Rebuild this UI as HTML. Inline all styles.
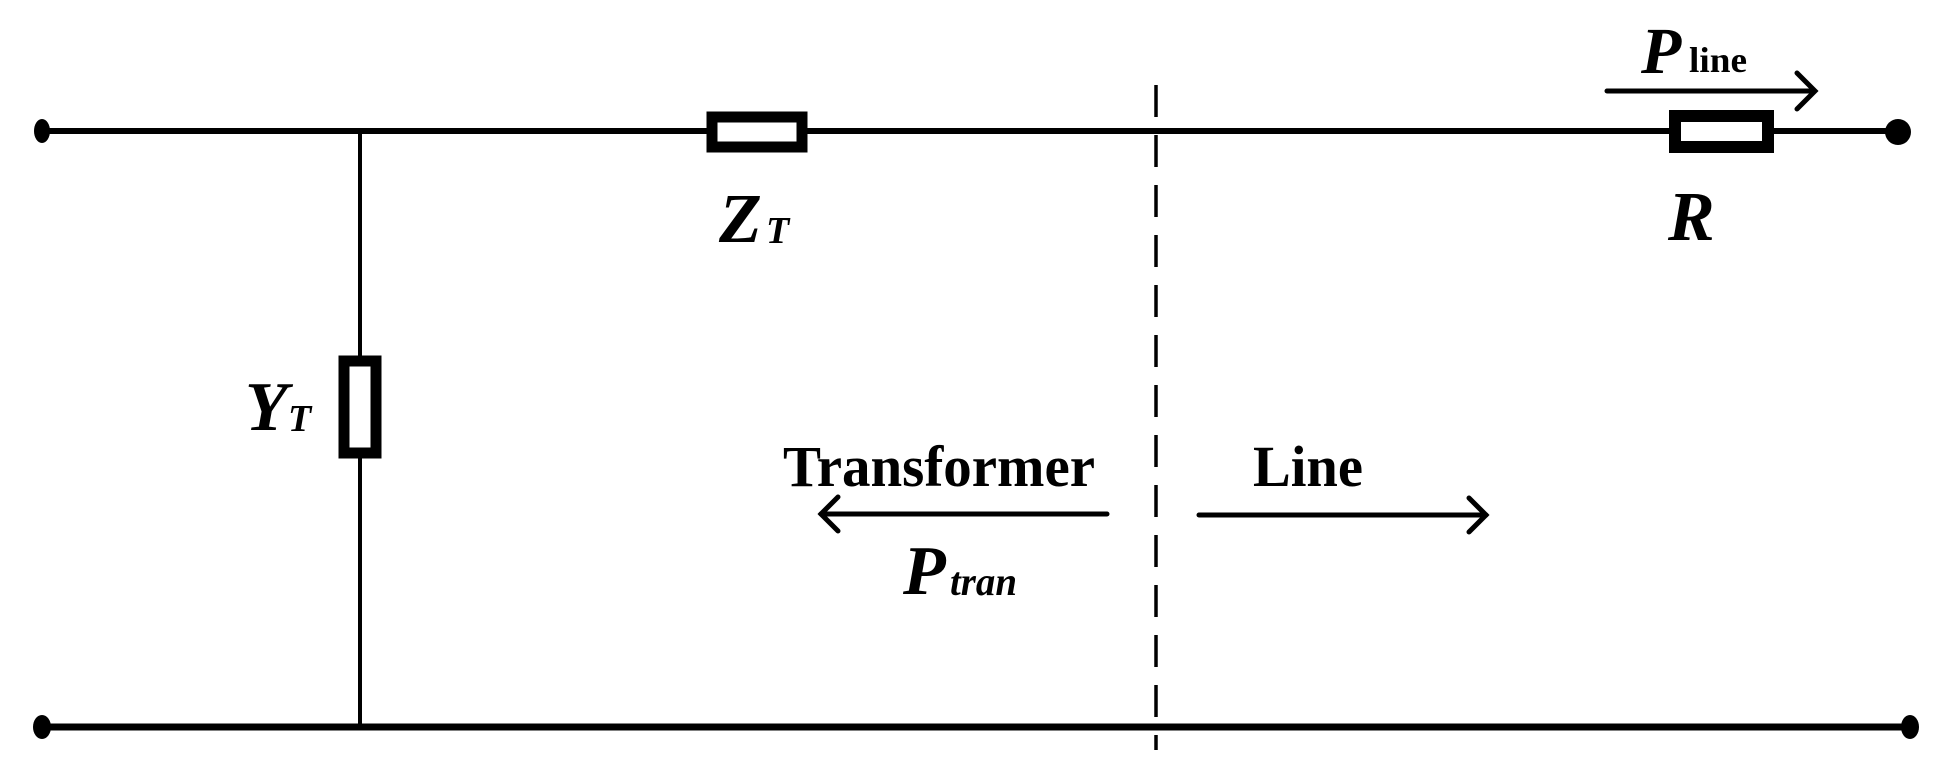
<!DOCTYPE html>
<html><head><meta charset="utf-8"><style>html,body{margin:0;padding:0;background:#fff}svg{display:block}</style></head>
<body>
<svg width="1955" height="772" viewBox="0 0 1955 772" xmlns="http://www.w3.org/2000/svg">
<g stroke="#000" fill="none">
<line x1="42" y1="131" x2="1898" y2="131" stroke-width="6"/>
<line x1="42" y1="727" x2="1910" y2="727" stroke-width="7"/>
<line x1="360" y1="131" x2="360" y2="727" stroke-width="4"/>
<line x1="1156" y1="85" x2="1156" y2="750" stroke-width="3.5" stroke-dasharray="32 18"/>
</g>
<ellipse cx="42" cy="131" rx="8" ry="12" fill="#000"/>
<ellipse cx="1898" cy="132" rx="13" ry="13" fill="#000"/>
<ellipse cx="42" cy="727" rx="9" ry="12" fill="#000"/>
<ellipse cx="1910" cy="727" rx="9" ry="12" fill="#000"/>
<!-- ZT -->
<rect x="712" y="117" width="90" height="30" fill="#fff" stroke="#000" stroke-width="11"/>
<!-- R -->
<rect x="1675" y="116" width="93" height="31" fill="#fff" stroke="#000" stroke-width="12"/>
<!-- YT -->
<rect x="344" y="361" width="32" height="92" fill="#fff" stroke="#000" stroke-width="11"/>
<g stroke="#000" stroke-width="5" fill="none" stroke-linecap="round">
<line x1="1607" y1="91" x2="1814" y2="91"/>
<polyline points="1797,73 1815,91 1797,109"/>
<line x1="821" y1="514" x2="1107" y2="514"/>
<polyline points="838,497 821,514 838,531"/>
<line x1="1199" y1="515" x2="1486" y2="515"/>
<polyline points="1469,498 1486,515 1469,532"/>
</g>
<g font-family="'Liberation Serif', serif" font-weight="bold" fill="#000">
<text x="783" y="486" font-size="58" textLength="312" lengthAdjust="spacingAndGlyphs">Transformer</text>
<text x="1253" y="486" font-size="58" textLength="110" lengthAdjust="spacingAndGlyphs">Line</text>
<text x="903" y="594" font-size="70" font-style="italic">P</text>
<text x="950" y="595" font-size="40" font-style="italic" textLength="67" lengthAdjust="spacingAndGlyphs">tran</text>
<text x="719" y="242" font-size="70" font-style="italic">Z</text>
<text x="766" y="243" font-size="38" font-style="italic">T</text>
<text x="1668" y="240" font-size="70" font-style="italic">R</text>
<text x="245" y="430" font-size="70" font-style="italic">Y</text>
<text x="288" y="431" font-size="38" font-style="italic">T</text>
<text x="1641" y="73" font-size="66" font-style="italic">P</text>
<text x="1689" y="72" font-size="36" textLength="58" lengthAdjust="spacingAndGlyphs">line</text>
</g>
</svg>
</body></html>
